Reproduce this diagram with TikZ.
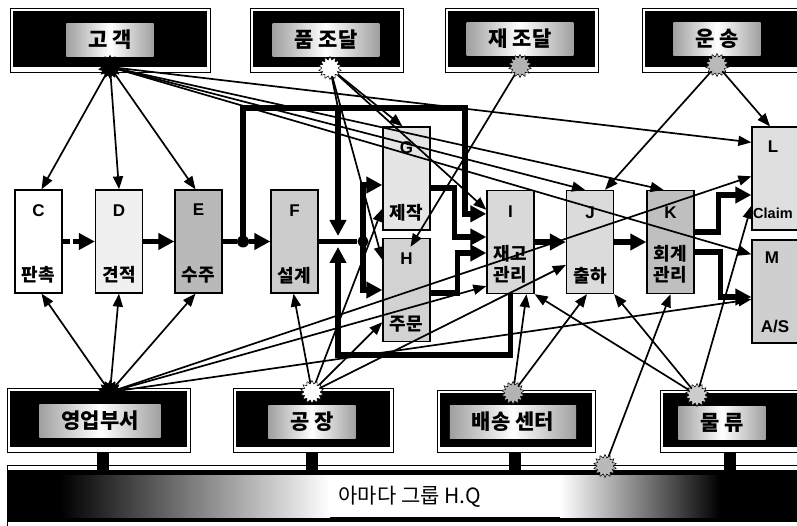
\documentclass[tikz,border=0pt]{standalone}
\usepackage{fontspec}
\setmainfont{Liberation Sans}
\newfontfamily\kr{Noto Sans CJK KR}
\usetikzlibrary{arrows.meta,shapes.geometric,calc}
\newcommand\entbox[5]{%
  \draw[line width=0.7pt,fill=white] #2 rectangle #3;
  \fill[black] ($#2+(3,3)$) rectangle ($#3+(-3,-5)$);
  \node[entlab] (#1) at #4 {#5};}
\begin{document}
\begin{tikzpicture}[x=1pt,y=-1pt,
  proc/.style={draw,line width=1.3pt,minimum width=47pt,minimum height=103pt,inner sep=0pt},
  ltr/.style={font=\fontsize{17}{17}\selectfont\bfseries,inner sep=0pt},
  krl/.style={font=\kr\fontsize{18}{21}\selectfont\bfseries,align=center,inner sep=0pt},
  conn/.style={line width=1.7pt,-{Triangle[length=13pt,width=10pt]}},
  fat/.style={line width=5.5pt},
  fatarr/.style={line width=5.5pt,-{Triangle[length=16pt,width=16pt]}},
  burst/.style={star,star points=14,star point ratio=1.4,minimum size=23pt,inner sep=0pt,draw,line width=0.5pt},
  entlab/.style={left color=gray!75,right color=gray!75,middle color=white,inner xsep=22pt,inner ysep=7pt,font=\kr\fontsize{21}{21}\selectfont\bfseries},
  stem/.style={line width=12pt},
]
\useasboundingbox (0,0) rectangle (797,526);
% HQ bar
\draw[line width=0.7pt,fill=white] (7,465) rectangle (805,530);
\fill[black] (7,470) rectangle (805,522);
\shade[left color=black,right color=white] (60,475) rectangle (330,517);
\fill[white] (329,475) rectangle (561,517);
\shade[left color=white,right color=black] (560,475) rectangle (720,517);
\node[font=\kr\fontsize{21}{21}\selectfont] (HQ) at (410,497) {아마다 그룹 H.Q};
% stems
\draw[stem] (103,450) -- (103,471);
\draw[stem] (312,450) -- (312,471);
\draw[stem] (515,450) -- (515,471);
\draw[stem] (730,450) -- (730,471);
% entity boxes
\entbox{Go}{(10,8)}{(210,72)}{(110,40)}{고 객}
\entbox{Pu}{(250,8)}{(403,72)}{(326,40)}{품 조달}
\entbox{Jae}{(445,8)}{(598,72)}{(520,39)}{재 조달}
\entbox{Un}{(642,8)}{(805,72)}{(717,39)}{운 송}
\entbox{Yb}{(7,388)}{(190,452)}{(100,421)}{영업부서}
\entbox{Gj}{(233,388)}{(393,452)}{(312,422)}{공 장}
\entbox{Bs}{(437,390)}{(595,452)}{(513,422)}{배송 센터}
\entbox{Ml}{(660,390)}{(805,452)}{(722,423)}{물 류}
% process boxes
\node[proc,fill=white]   (C) at (38.5,241.5) {};
\node[proc,fill=gray!12] (D) at (119,241.5) {};
\node[proc,fill=gray!55] (E) at (198.5,241.5) {};
\node[proc,fill=gray!40] (F) at (294.5,241.5) {};
\node[proc,fill=gray!20] (G) at (406.5,178.5) {};
\node[proc,fill=gray!35] (H) at (406.5,290) {};
\node[proc,fill=gray!30] (I) at (510.5,242) {};
\node[proc,fill=gray!28] (J) at (590,242) {};
\node[proc,fill=gray!50] (K) at (670.5,242) {};
\node[proc,fill=gray!25,minimum width=60pt] (L) at (782,178.5) {};
\node[proc,fill=gray!38,minimum width=60pt] (M) at (782,291.5) {};
% labels
\node[ltr] (Ca) at (38.5,211) {C};   \node[krl] (Cb) at (38.5,275) {판촉};
\node[ltr] (Da) at (119,211) {D};    \node[krl] (Db) at (119,275) {견적};
\node[ltr] (Ea) at (198.5,210) {E};  \node[krl] (Eb) at (198.5,275) {수주};
\node[ltr] (Fa) at (294.5,211) {F};  \node[krl] (Fb) at (294.5,276) {설계};
\node[ltr] (Ga) at (406.5,148) {G};  \node[krl] (Gb) at (406.5,213) {제작};
\node[ltr] (Ha) at (406.5,259) {H};  \node[krl] (Hb) at (406.5,324) {주문};
\node[ltr] (Ia) at (510.5,212) {I};  \node[krl] (Ib) at (510.5,264) {재고\\관리};
\node[ltr] (Ja) at (590,213) {J};    \node[krl] (Jb) at (590,276) {출하};
\node[ltr] (Ka) at (670.5,213) {K};  \node[krl] (Kb) at (670.5,264) {회계\\관리};
\node[ltr] (La) at (773,147) {L};
\node[ltr,font=\fontsize{14.5}{15}\selectfont\bfseries,anchor=west] (Lb) at (753,213) {Claim};
\node[ltr] (Ma) at (772,258) {M};    \node[ltr] (Mb) at (775,327) {A/S};
% star coordinates
\coordinate (cGo) at (110,67);
\coordinate (cPu) at (330,68);
\coordinate (cJae) at (520,66);
\coordinate (cUn) at (717,65);
\coordinate (cYb) at (110,392);
\coordinate (cGj) at (312,392);
\coordinate (cBs) at (513,393);
\coordinate (cMl) at (697,395);
\coordinate (cHq) at (605,466);
% thick flow
\node[circle,fill,inner sep=0pt,minimum size=12pt] (dot1) at (243,241.5) {};
\node[circle,fill,inner sep=0pt,minimum size=11pt] (dot2) at (363,241.5) {};
\coordinate (t1) at (243,108);
\coordinate (t2) at (465,108);
\coordinate (t3) at (338,108);
\coordinate (b1) at (338,236);
\coordinate (y355) at (0,355);
\coordinate (c1) at (338,355);
\coordinate (b2) at (338,247);
\draw[fatarr,dash pattern=on 7pt off 3pt] (C.east) -- (D.west);
\draw[fatarr] (D.east) -- (E.west);
\draw[fat] (E.east) -- (dot1);
\draw[fatarr] (dot1) -- (F.west);
\draw[fatarr] (dot1.center) -- (t1) -- (t2) |- ([yshift=-24pt]I.north west);
\draw[fatarr] (t3) -- (b1);
\draw[fat] (F.east) -- (dot2);
\draw[fatarr] (dot2.center) |- ([yshift=-6.5pt]G.west);
\draw[fatarr] (dot2.center) |- (H.west);
\draw[fatarr] (I.south) -- (I.south |- y355) -- (c1) -- (b2);
\draw[fatarr] ([yshift=-9.5pt]G.east) -- ++(24,0) |- ([yshift=5pt]I.west);
\draw[fatarr] ([yshift=-3pt]H.east) -- ++(27,0) |- ([yshift=-11pt]I.west);
\draw[fatarr] (I.east) -- (J.west);
\draw[fatarr] (J.east) -- (K.west);
\draw[fatarr] ([yshift=10pt]K.east) -- ++(24,0) |- ([yshift=-16.5pt]L.west);
\draw[fatarr] ([yshift=-10pt]K.east) -- ++(26,0) |- ([yshift=-5.5pt]M.west);
% thin connectors
\draw[conn] (cGo) -- ([xshift=3pt]C.north);
\draw[conn] (cGo) -- (D.north);
\draw[conn] (cGo) -- ([xshift=-3pt]E.north);
\draw[conn] (cGo) -- ([yshift=-16pt]L.north west);
\draw[conn] (cGo) -- ([xshift=-7pt]K.north);
\draw[conn] (cGo) -- ([xshift=-5pt]J.north);
\draw[conn] (cGo) -- ([yshift=-15pt]M.north west);
\draw[line width=1.7pt] (cPu) -- (t3);
\draw[conn] (cPu) -- ([xshift=-4pt]G.north);
\draw[conn] (cPu) -- ([yshift=-22pt]H.north west);
\draw[conn] (cPu) -- ([yshift=-20pt]I.north west);
\draw[conn] (cJae) -- ([xshift=4pt,yshift=-9pt]H.north);
\draw[conn] (cUn) -- ([xshift=15pt]J.north);
\draw[conn] (cUn) -- ([xshift=-12pt]L.north);
\draw[conn] (cYb) -- ([xshift=3pt]C.south);
\draw[conn] (cYb) -- (D.south);
\draw[conn] (cYb) -- ([xshift=-3pt]E.south);
\draw[conn] (cYb) -- ([yshift=8pt]I.south west);
\draw[conn] (cYb) -- ([yshift=-50pt]L.north west);
\draw[conn] (cYb) -- ([yshift=-60pt]M.north west);
\draw[conn] (cGj) -- ([xshift=-1pt]F.south);
\draw[conn] (cGj) -- ([yshift=22pt]G.south west);
\draw[conn] (cGj) -- ([yshift=20pt]H.south west);
\draw[conn] (cGj) -- ([yshift=-23pt]J.west);
\draw[conn] (cBs) -- ([xshift=16pt]I.south);
\draw[conn] (cBs) -- ([xshift=-3pt]J.south);
\draw[conn] (cMl) -- (I.south east);
\draw[conn] (cMl) -- (J.south east);
\draw[conn] (cMl) -- ([yshift=25pt]L.south west);
\draw[conn] (cHq) -- (K.south);
% stars
\node[burst,fill=black]    (sGo)  at (cGo) {};
\node[burst,fill=white]    (sPu)  at (cPu) {};
\node[burst,fill=gray!60]  (sJae) at (cJae) {};
\node[burst,fill=gray!55]  (sUn)  at (cUn) {};
\node[burst,fill=black]    (sYb)  at (cYb) {};
\node[burst,fill=white]    (sGj)  at (cGj) {};
\node[burst,fill=gray!60]  (sBs)  at (cBs) {};
\node[burst,fill=gray!40]  (sMl)  at (cMl) {};
\node[burst,fill=gray!55]  (sHq)  at (cHq) {};
\end{tikzpicture}
\end{document}
